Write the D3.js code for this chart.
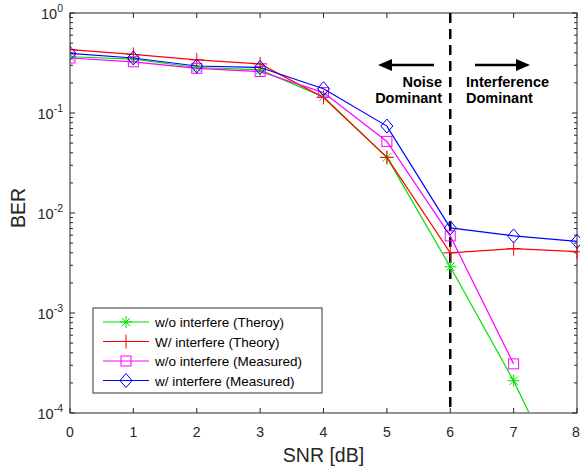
<!DOCTYPE html>
<html>
<head>
<meta charset="utf-8">
<script src="https://cdn.jsdelivr.net/npm/d3@7"></script>
<style>
  body { margin: 0; background: #fff; }
  text { font-family: "Liberation Sans", Arial, sans-serif; }
</style>
</head>
<body>
<div id="chart"></div>
<script>
// SNR points and BER series
const snr = [0, 1, 2, 3, 4, 5, 6, 7, 8];
const berNoIntTheory = [0.365, 0.345, 0.285, 0.27, 0.145, 0.036, 0.0029, 0.00021, 0.00001];
const berIntTheory = [0.43, 0.385, 0.34, 0.31, 0.143, 0.036, 0.004, 0.0044, 0.0041];
const berNoIntMeas = [0.355, 0.325, 0.28, 0.26, 0.16, 0.052, 0.0059, 0.00031];
const berIntMeas = [0.395, 0.355, 0.295, 0.285, 0.175, 0.074, 0.0071, 0.0059, 0.0052];
const seriesNames = [
  'w/o interfere (Theroy)',
  'W/ interfere (Theory)',
  'w/o interfere (Measured)',
  'w/ interfere (Measured)',
];
const xTicks = [0, 1, 2, 3, 4, 5, 6, 7, 8];
const yExponents = [0, -1, -2, -3, -4];

const W = 580, H = 469;
const margin = { top: 13, right: 3, bottom: 56, left: 70 };
const width = W - margin.left - margin.right;
const height = H - margin.top - margin.bottom;

const svg = d3.select('#chart').append('svg')
  .attr('width', W).attr('height', H);
const g = svg.append('g')
  .attr('transform', `translate(${margin.left}, ${margin.top})`);

const x = d3.scaleLinear().domain([0, 8]).range([0, width]);
const y = d3.scaleLog().domain([1e-4, 1]).range([height, 0]);

const axisColor = '#262626';

// minor log ticks
const minor = [];
yExponents.slice(0, 4).forEach((e) => {
  for (let k = 2; k <= 9; k++) minor.push(k * Math.pow(10, e - 1));
});

// box + ticks
g.append('rect').attr('width', width).attr('height', height)
  .attr('fill', 'none').attr('stroke', axisColor).attr('stroke-width', 1);

xTicks.forEach((t) => {
  g.append('line').attr('x1', x(t)).attr('x2', x(t)).attr('y1', height).attr('y2', height - 5)
    .attr('stroke', axisColor);
  g.append('line').attr('x1', x(t)).attr('x2', x(t)).attr('y1', 0).attr('y2', 5)
    .attr('stroke', axisColor);
  // keep the last label inside the window
  g.append('text').attr('x', t === 8 ? x(t) - 1 : x(t)).attr('y', height + 24)
    .attr('text-anchor', 'middle').attr('font-size', 14).attr('fill', axisColor)
    .text(t);
});

yExponents.forEach((e) => {
  const v = Math.pow(10, e);
  g.append('line').attr('x1', 0).attr('x2', 5).attr('y1', y(v)).attr('y2', y(v)).attr('stroke', axisColor);
  g.append('line').attr('x1', width).attr('x2', width - 5).attr('y1', y(v)).attr('y2', y(v)).attr('stroke', axisColor);
  const lab = g.append('text').attr('x', -7).attr('y', y(v) + 6)
    .attr('text-anchor', 'end').attr('font-size', 14.5).attr('fill', axisColor);
  lab.append('tspan').text('10');
  lab.append('tspan').attr('dy', -7).attr('font-size', 10.5).text(e);
});
minor.forEach((v) => {
  g.append('line').attr('x1', 0).attr('x2', 3).attr('y1', y(v)).attr('y2', y(v)).attr('stroke', axisColor);
  g.append('line').attr('x1', width).attr('x2', width - 3).attr('y1', y(v)).attr('y2', y(v)).attr('stroke', axisColor);
});

// axis titles
svg.append('text').attr('x', margin.left + x(4)).attr('y', 462)
  .attr('text-anchor', 'middle').attr('font-size', 19.5).attr('fill', axisColor).text('SNR [dB]');
svg.append('text').attr('transform', `translate(25, 208) rotate(-90)`)
  .attr('text-anchor', 'middle').attr('font-size', 19.5).attr('fill', axisColor).text('BER');

// clip
svg.append('defs').append('clipPath').attr('id', 'clip')
  .append('rect').attr('x', 0).attr('y', 0).attr('width', width + 6).attr('height', height);
const plot = g.append('g').attr('clip-path', 'url(#clip)');

// dashed divider at SNR 6
plot.append('line').attr('x1', x(6)).attr('x2', x(6)).attr('y1', 0).attr('y2', height)
  .attr('stroke', '#000').attr('stroke-width', 2.5).attr('stroke-dasharray', '10,6');

const series = [
  { name: seriesNames[0], data: berNoIntTheory, color: '#00e000', marker: 'star' },
  { name: seriesNames[1], data: berIntTheory, color: '#ff0000', marker: 'plus' },
  { name: seriesNames[2], data: berNoIntMeas, color: '#ff00ff', marker: 'square' },
  { name: seriesNames[3], data: berIntMeas, color: '#0000ff', marker: 'diamond' },
];

const drawMarker = (sel, type, cx, cy, color) => {
  const m = sel.append('g').attr('transform', `translate(${cx}, ${cy})`)
    .attr('fill', 'none').attr('stroke', color).attr('stroke-width', 1);
  if (type === 'star') {
    const r = 6;
    m.append('path').attr('d', `M${-r},0H${r}M0,${-r}V${r}M${-r * 0.7},${-r * 0.7}L${r * 0.7},${r * 0.7}M${-r * 0.7},${r * 0.7}L${r * 0.7},${-r * 0.7}`);
  } else if (type === 'plus') {
    const r = 7;
    m.append('path').attr('d', `M${-r},0H${r}M0,${-r}V${r}`);
  } else if (type === 'square') {
    m.append('rect').attr('x', -5).attr('y', -5).attr('width', 10).attr('height', 10);
  } else if (type === 'diamond') {
    m.append('path').attr('d', 'M0,-7L6,0L0,7L-6,0Z');
  }
};

const line = d3.line().x((d, i) => x(snr[i])).y((d) => y(d));

series.forEach((s) => {
  plot.append('path').datum(s.data).attr('d', line)
    .attr('fill', 'none').attr('stroke', s.color).attr('stroke-width', 1.2);
  s.data.forEach((v, i) => drawMarker(plot, s.marker, x(snr[i]), y(v), s.color));
});

// annotations
const ann = svg.append('g');
const arrow = (x1, x2, yy) => {
  const dir = Math.sign(x2 - x1);
  ann.append('line').attr('x1', x1).attr('x2', x2 - dir * 10).attr('y1', yy).attr('y2', yy)
    .attr('stroke', '#000').attr('stroke-width', 2.5);
  ann.append('path')
    .attr('d', `M${x2},${yy}L${x2 - dir * 14},${yy - 6}L${x2 - dir * 14},${yy + 6}Z`)
    .attr('fill', '#000');
};
arrow(434, 378, 65);
arrow(475, 530, 65);
['Noise', 'Dominant'].forEach((t, i) => ann.append('text').attr('x', 442)
  .attr('y', 87 + i * 16).attr('text-anchor', 'end').attr('font-size', 14.5)
  .attr('font-weight', 'bold').text(t));
['Interference', 'Dominant'].forEach((t, i) => ann.append('text').attr('x', 466)
  .attr('y', 87 + i * 16).attr('font-size', 14.5).attr('font-weight', 'bold').text(t));

// legend
const lg = svg.append('g').attr('transform', 'translate(93, 308)');
lg.append('rect').attr('width', 229).attr('height', 85)
  .attr('fill', '#fff').attr('stroke', '#333').attr('stroke-width', 1);
series.forEach((s, i) => {
  const yy = 14 + i * 19.5;
  lg.append('line').attr('x1', 10).attr('x2', 56).attr('y1', yy).attr('y2', yy)
    .attr('stroke', s.color).attr('stroke-width', 1.2);
  drawMarker(lg, s.marker, 33, yy, s.color);
  lg.append('text').attr('x', 62).attr('y', yy + 5).attr('font-size', 13.5).attr('fill', '#000').text(s.name);
});
</script>
</body>
</html>
